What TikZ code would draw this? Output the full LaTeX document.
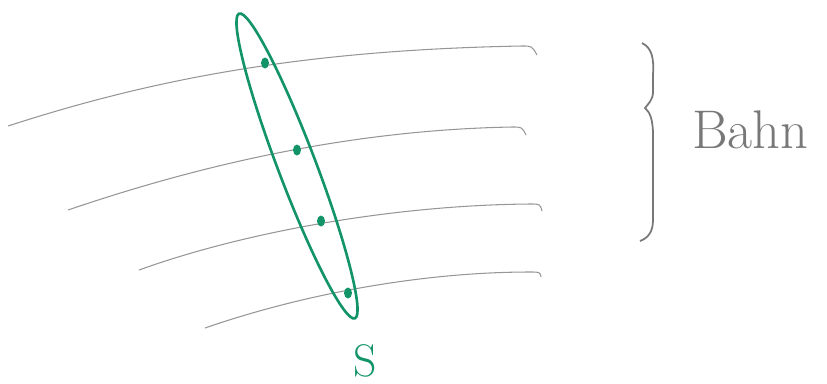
\documentclass[tikz,border=0pt]{standalone}
\definecolor{sgreen}{RGB}{18,148,104}
\definecolor{pencil}{RGB}{150,150,150}
\definecolor{pencildark}{RGB}{120,120,120}
\begin{document}
\begin{tikzpicture}[x=0.02cm, y=-0.02cm]
  \useasboundingbox (0,0) rectangle (827,383);
  %% ── Bahn lines (pencil) ─────────────────────────────────────
  \foreach \i/\a/\b/\c/\d/\e in {
    1/{8,126}/{150,80}/{300,50}/{522,46}/{537,55},
    2/{68,210}/{200,165}/{350,130}/{512,127}/{526,135},
    3/{139,270}/{250,230}/{400,205}/{530,204}/{542,211},
    4/{205,328}/{300,295}/{420,272}/{530,272}/{541,277}}{
    \draw[pencil, line width=0.6pt] (\a) .. controls (\b) and (\c) .. (\d)
      .. controls +(10,0) .. (\e);
  }
  %% ── S: the section through all lines ───────────────────────
  \draw[sgreen, line width=1.5pt, rotate around={-69.2:(297,166)}]
    (297,166) ellipse (163 and 19);
  \foreach \n/\p in {1/{265,63},2/{297,150},3/{321,221},4/{348,293}}{
    \coordinate (d\n) at (\p);
    \fill[sgreen] (d\n) ellipse (4 and 5.5);
  }
  \node[sgreen, font=\fontsize{26}{26}\selectfont, anchor=base] (s) at (365,376) {S};
  %% ── brace with label ───────────────────────────────────────
  \draw[pencildark, line width=1pt]
    (642,43) .. controls (652,48) and (654,58) .. (653,75) -- (653,92)
    .. controls (653,100) and (648,104) .. (645,108)
    .. controls (650,112) and (653,120) .. (653,135) -- (653,220)
    .. controls (653,232) and (648,238) .. (640,241);
  \node[pencildark, font=\fontsize{31}{31}\selectfont, anchor=base west, inner sep=0pt]
    (bahn) at (692,148) {Bahn};
\end{tikzpicture}
\end{document}
